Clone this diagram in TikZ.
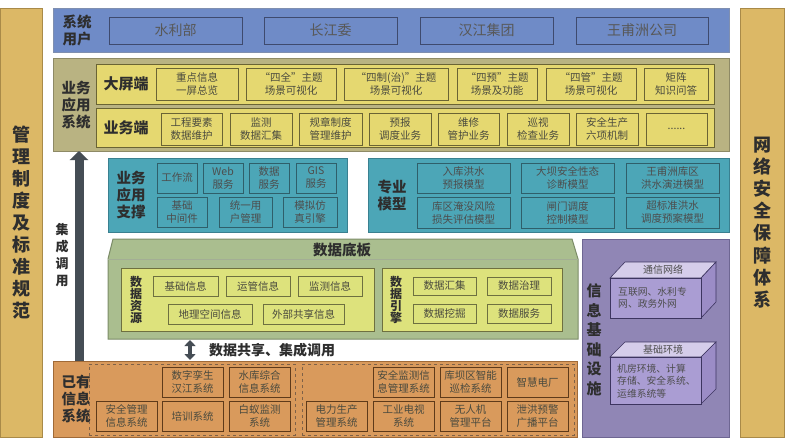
\documentclass[tikz,border=0pt]{standalone}
\usepackage{fontspec}
\setmainfont{Noto Sans CJK SC}
\usetikzlibrary{arrows.meta}
\definecolor{gold}{HTML}{DCB866}
\definecolor{goldb}{HTML}{A98A48}
\definecolor{blue1}{HTML}{6F8BC7}
\definecolor{blueb}{HTML}{7F8FB0}
\definecolor{blueib}{HTML}{3E4A6E}
\definecolor{olive}{HTML}{B9B382}
\definecolor{oliveb}{HTML}{8E8A66}
\definecolor{yel}{HTML}{E5D870}
\definecolor{yelb}{HTML}{6A6434}
\definecolor{teal1}{HTML}{4CA6B7}
\definecolor{tealb}{HTML}{3A8090}
\definecolor{tealib}{HTML}{2F5F6A}
\definecolor{grn}{HTML}{AABE8F}
\definecolor{grnb}{HTML}{7C8C68}
\definecolor{yg}{HTML}{DDE27C}
\definecolor{ygb}{HTML}{6E7040}
\definecolor{purp}{HTML}{9086B5}
\definecolor{purpb}{HTML}{6E6692}
\definecolor{pfront}{HTML}{AA9DD3}
\definecolor{ptop}{HTML}{D5CDEA}
\definecolor{pside}{HTML}{9B8CC6}
\definecolor{pline}{HTML}{3D3560}
\definecolor{orng}{HTML}{D99A5C}
\definecolor{orngb}{HTML}{A06A38}
\definecolor{orngib}{HTML}{5E3A1A}
\definecolor{arrowgray}{HTML}{454D55}
\definecolor{lbl}{HTML}{2E2E2E}
\definecolor{itxt}{HTML}{4A4A3E}
\newcommand\bx[7]{\node[#6, minimum width={(#4-#2)*1pt}, minimum height={(#5-#3)*1pt}] (#1) at ({(#2+#4)/2},{(#3+#5)/2}) {#7};}
\tikzset{
  base/.style={inner sep=0pt, outer sep=0pt, align=center, text=itxt, font=\fontsize{10.5}{13}\selectfont, line width=0.8pt},
  goldbar/.style={base, fill=gold, draw=goldb, text=lbl, font=\fontsize{18}{22.1}\selectfont\bfseries},
  bluebg/.style={base, fill=blue1, draw=blueb, line width=1pt},
  ubox/.style={base, fill=blue1, draw=blueib, font=\fontsize{14}{16}\selectfont, text=lbl!80},
  olivebg/.style={base, fill=olive, draw=oliveb, line width=1pt},
  yrow/.style={base, fill=yel, draw=yelb},
  ybox/.style={base, fill=yel, draw=yelb},
  tealbg/.style={base, fill=teal1, draw=tealb, line width=1pt},
  tbox/.style={base, fill=teal1, draw=tealib, text=lbl!85},
  ygbg/.style={base, fill=yg, draw=ygb},
  ygbox/.style={base, fill=yg, draw=ygb},
  purplebg/.style={base, fill=purp, draw=purpb, line width=1pt},
  orangebg/.style={base, fill=orng, draw=orngb, line width=1pt},
  obox/.style={base, fill=orng, draw=orngib},
  dgroup/.style={base, draw=orngib!80, dashed, line width=0.6pt},
  inv/.style={base},
  lab/.style={inner sep=0pt, align=center, text=lbl, font=\fontsize{14.5}{17}\selectfont\bfseries},
  vlab/.style={inner sep=0pt, align=center, text=lbl, font=\fontsize{12}{12.2}\selectfont\bfseries},
  bigarrow/.style={line width=9pt, draw=arrowgray, -{Triangle[width=18pt,length=9pt]}},
  dblarrow/.style={line width=4.5pt, draw=arrowgray, {Triangle[width=11pt,length=6pt]}-{Triangle[width=11pt,length=6pt]}},
  ptxt/.style={inner sep=0pt, align=left, text=lbl!85, font=\fontsize{9.8}{12.5}\selectfont},
}
\begin{document}
\begin{tikzpicture}[x=1pt,y=-1pt]
\useasboundingbox[fill=white] (0,0) rectangle (785,439);
% side bars
\bx{mgmt}{0.5}{8}{42}{437}{goldbar}{管\\理\\制\\度\\及\\标\\准\\规\\范}
\bx{sec}{740}{8}{784.5}{437}{goldbar}{网\\络\\安\\全\\保\\障\\体\\系}
% users
\bx{users}{53}{8}{729}{52}{bluebg}{}
\node[lab] (usersl) at (77,30) {系统\\用户};
\bx{u1}{109}{17}{242}{44}{ubox}{水利部}
\bx{u2}{264}{17}{397}{44}{ubox}{长江委}
\bx{u3}{420}{17}{553}{44}{ubox}{汉江集团}
\bx{u4}{576}{17}{708}{44}{ubox}{王甫洲公司}
% application systems
\bx{app}{53}{58}{729}{151}{olivebg}{}
\node[lab] (appl) at (76,105) {业务\\应用\\系统};
\bx{bigrow}{96}{64}{714}{104}{yrow}{}
\node[lab, font=\fontsize{15}{17}\selectfont\bfseries] (bigl) at (126,84) {大屏端};
\bx{b1}{156}{68}{238}{100}{ybox}{重点信息\\一屏总览}
\bx{b2}{246}{68}{336}{100}{ybox}{“四全”主题\\场景可视化}
\bx{b3}{344}{68}{448}{100}{ybox}{“四制(治)”主题\\场景可视化}
\bx{b4}{457}{68}{537}{100}{ybox}{“四预”主题\\场景及功能}
\bx{b5}{546}{68}{636}{100}{ybox}{“四管”主题\\场景可视化}
\bx{b6}{644}{68}{708}{100}{ybox}{矩阵\\知识问答}
\bx{bizrow}{96}{108}{714}{147}{yrow}{}
\node[lab, font=\fontsize{15}{17}\selectfont\bfseries] (bizl) at (126,128) {业务端};
\bx{w1}{161}{113}{222}{145}{ybox}{工程要素\\数据维护}
\bx{w2}{230}{113}{292}{145}{ybox}{监测\\数据汇集}
\bx{w3}{299}{113}{362}{145}{ybox}{规章制度\\管理维护}
\bx{w4}{369}{113}{431}{145}{ybox}{预报\\调度业务}
\bx{w5}{438}{113}{499}{145}{ybox}{维修\\管护业务}
\bx{w6}{507}{113}{569}{145}{ybox}{巡视\\检查业务}
\bx{w7}{576}{113}{638}{145}{ybox}{安全生产\\六项机制}
\bx{w8}{646}{113}{707}{145}{ybox}{......}
% support
\bx{sup}{108}{158}{347}{232}{tealbg}{}
\node[lab] (supl) at (131,195) {业务\\应用\\支撑};
\bx{s1}{157}{163}{197}{193}{tbox}{工作流}
\bx{s2}{203}{163}{243}{193}{tbox}{Web\\服务}
\bx{s3}{249}{163}{289}{193}{tbox}{数据\\服务}
\bx{s4}{296}{163}{336}{193}{tbox}{GIS\\服务}
\bx{s5}{157}{197}{207}{227}{tbox}{基础\\中间件}
\bx{s6}{219}{197}{272}{227}{tbox}{统一用\\户管理}
\bx{s7}{283}{197}{337}{227}{tbox}{模拟仿\\真引擎}
% models
\bx{mod}{368}{158}{729}{232}{tealbg}{}
\node[lab] (modl) at (392,195) {专业\\模型};
\bx{m1}{417}{163}{510}{193}{tbox}{入库洪水\\预报模型}
\bx{m2}{521}{163}{614}{193}{tbox}{大坝安全性态\\诊断模型}
\bx{m3}{626}{163}{719}{193}{tbox}{王甫洲库区\\洪水演进模型}
\bx{m4}{417}{197}{510}{228}{tbox}{库区淹没风险\\损失评估模型}
\bx{m5}{521}{197}{614}{228}{tbox}{闸门调度\\控制模型}
\bx{m6}{626}{197}{719}{228}{tbox}{超标准洪水\\调度预案模型}
% data base plate
\bx{db}{108}{239}{578}{339}{inv}{}
\draw[fill=grn, draw=grnb, line width=1pt] (108,339) -- (108,259) -- (113,239) -- (572,239) -- (578,259) -- (578,339) -- cycle;
\draw[grnb!70, line width=0.6pt] (108,259) -- (578,259);
\node[lab, font=\fontsize{14.5}{17}\selectfont\bfseries] (dbl) at (342,250) {数据底板};
\bx{res}{121}{268}{374}{331}{ygbg}{}
\node[vlab] (resl) at (136,300) {数\\据\\资\\源};
\bx{r1}{153}{276}{218}{296}{ygbox}{基础信息}
\bx{r2}{226}{276}{290}{296}{ygbox}{运管信息}
\bx{r3}{298}{276}{362}{296}{ygbox}{监测信息}
\bx{r4}{168}{304}{252}{324}{ygbox}{地理空间信息}
\bx{r5}{263}{304}{344}{324}{ygbox}{外部共享信息}
\bx{eng}{382}{268}{562}{331}{ygbg}{}
\node[vlab] (engl) at (396,300) {数\\据\\引\\擎};
\bx{e1}{413}{277}{476}{295}{ygbox}{数据汇集}
\bx{e2}{487}{277}{551}{295}{ygbox}{数据治理}
\bx{e3}{413}{304}{476}{323}{ygbox}{数据挖掘}
\bx{e4}{487}{304}{551}{323}{ygbox}{数据服务}
% info infrastructure
\bx{infra}{582}{239}{729}{437}{purplebg}{}
\node[lab, font=\fontsize{15}{19.5}\selectfont\bfseries] (infral) at (594,340) {信\\息\\基\\础\\设\\施};
\draw[pline, line width=0.6pt, fill=ptop] (610,278) -- (625,262) -- (716,262) -- (701,278) -- cycle;
\draw[pline, line width=0.6pt, fill=pside] (701,278) -- (716,262) -- (716,302) -- (701,318) -- cycle;
\draw[pline, line width=0.6pt, fill=pfront] (610,278) rectangle (701,318);
\node[ptxt, align=center, font=\fontsize{10}{12}\selectfont] (net) at (663,270) {通信网络};
\node[ptxt, anchor=west] (nett) at (618,298) {互联网、水利专\\网、政务外网};
\draw[pline, line width=0.6pt, fill=ptop] (610,357) -- (625,342) -- (716,342) -- (701,357) -- cycle;
\draw[pline, line width=0.6pt, fill=pside] (701,357) -- (716,342) -- (716,389) -- (701,404) -- cycle;
\draw[pline, line width=0.6pt, fill=pfront] (610,357) rectangle (701,404);
\node[ptxt, align=center, font=\fontsize{10}{12}\selectfont] (env) at (663,349.5) {基础环境};
\node[ptxt, anchor=west] (envt) at (617,381) {机房环境、计算\\存储、安全系统、\\运维系统等};
% existing systems
\bx{exist}{53}{361}{577}{437}{orangebg}{}
\node[lab] (existl) at (76,399) {已有\\信息\\系统};
\bx{g1}{89}{364}{295}{435}{dgroup}{}
\bx{g2}{302}{364}{574}{435}{dgroup}{}
\bx{o1}{162}{367}{223}{397}{obox}{数字孪生\\汉江系统}
\bx{o2}{229}{367}{290}{397}{obox}{水库综合\\信息系统}
\bx{o3}{96}{401}{157}{431}{obox}{安全管理\\信息系统}
\bx{o4}{162}{401}{223}{431}{obox}{培训系统}
\bx{o5}{229}{401}{290}{431}{obox}{白蚁监测\\系统}
\bx{o6}{373}{367}{434}{397}{obox}{安全监测信\\息管理系统}
\bx{o7}{440}{367}{501}{397}{obox}{库坝区智能\\巡检系统}
\bx{o8}{507}{367}{568}{397}{obox}{智慧电厂}
\bx{o9}{306}{401}{367}{431}{obox}{电力生产\\管理系统}
\bx{o10}{373}{401}{434}{431}{obox}{工业电视\\系统}
\bx{o11}{440}{401}{501}{431}{obox}{无人机\\管理平台}
\bx{o12}{507}{401}{568}{431}{obox}{泄洪预警\\广播平台}
% arrows
\coordinate (ax) at (79,0);
\draw[bigarrow] (ax |- exist.north) -- (ax |- app.south);
\node[lab, font=\fontsize{13}{17}\selectfont\bfseries] (axl) at (62,255) {集\\成\\调\\用};
\coordinate (dx) at (190,0);
\draw[dblarrow, shorten <=1pt, shorten >=1pt] (dx |- db.south) -- (dx |- exist.north);
\node[lab, font=\fontsize{14}{17}\selectfont\bfseries] (dxl) at (272,350) {数据共享、集成调用};
\end{tikzpicture}
\end{document}
